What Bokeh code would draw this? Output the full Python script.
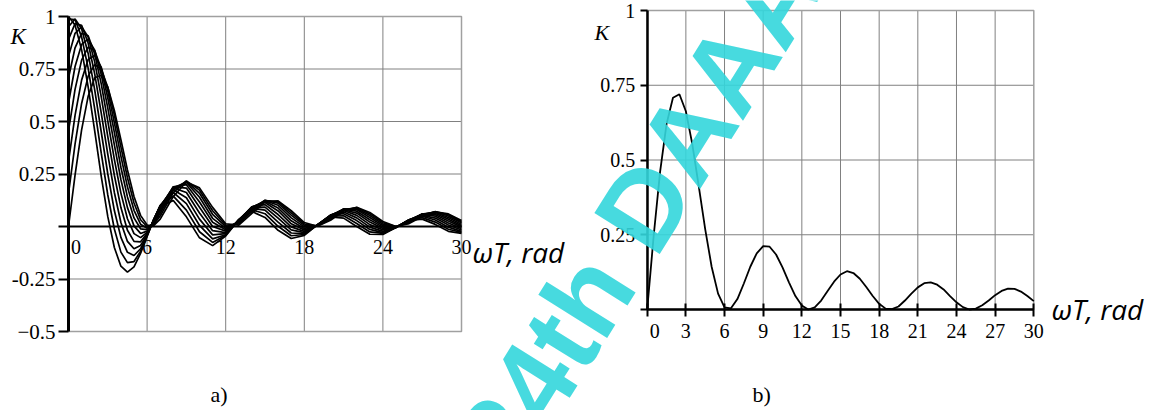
from bokeh.plotting import figure
from bokeh.models import Label, LinearAxis, FixedTicker, Range1d
from bokeh.embed import file_html
from bokeh.resources import INLINE

# ---------------- data: panel a (family of curves) ----------------
x_a = [0, 0.5, 1, 1.5, 2, 2.5, 3, 3.5, 4, 4.5, 5, 5.5, 6, 6.5, 7,
       8, 9, 10, 11, 12, 13, 14, 15, 16, 17, 18, 19, 20, 21, 22, 23, 24, 25, 26, 27, 28, 29, 30]

k_a0 = [1.000, 0.959, 0.842, 0.665, 0.455, 0.239, 0.047, -0.100, -0.189, -0.217, -0.192, -0.128, -0.047, 0.033, 0.094,
        0.124, 0.046, -0.054, -0.091, -0.045, 0.032, 0.071, 0.043, -0.018, -0.057, -0.042, 0.008, 0.046, 0.040, 0.000,
        -0.037, -0.038, -0.005, 0.029, 0.035, 0.010, -0.023, -0.033]
k_a1 = [0.988, 0.985, 0.903, 0.754, 0.560, 0.349, 0.150, -0.012, -0.122, -0.172, -0.167, -0.118, -0.045, 0.033, 0.098,
        0.145, 0.078, -0.025, -0.076, -0.042, 0.033, 0.080, 0.061, 0.001, -0.044, -0.038, 0.008, 0.050, 0.051, 0.014,
        -0.026, -0.033, -0.005, 0.031, 0.042, 0.021, -0.013, -0.028]
k_a2 = [0.951, 0.988, 0.942, 0.824, 0.651, 0.450, 0.250, 0.076, -0.052, -0.123, -0.138, -0.106, -0.042, 0.033, 0.100,
        0.162, 0.109, 0.005, -0.059, -0.039, 0.033, 0.086, 0.078, 0.021, -0.031, -0.034, 0.008, 0.053, 0.061, 0.028,
        -0.014, -0.029, -0.005, 0.032, 0.049, 0.031, -0.003, -0.023]
k_a3 = [0.891, 0.966, 0.958, 0.874, 0.727, 0.540, 0.343, 0.162, 0.019, -0.071, -0.106, -0.090, -0.039, 0.031, 0.100,
        0.175, 0.137, 0.035, -0.040, -0.034, 0.032, 0.091, 0.092, 0.040, -0.016, -0.029, 0.007, 0.054, 0.069, 0.041,
        -0.003, -0.023, -0.005, 0.032, 0.053, 0.040, 0.007, -0.017]
k_a4 = [0.809, 0.920, 0.951, 0.902, 0.784, 0.617, 0.428, 0.244, 0.090, -0.018, -0.071, -0.073, -0.034, 0.029, 0.097,
        0.184, 0.162, 0.064, -0.020, -0.029, 0.030, 0.094, 0.104, 0.057, -0.002, -0.023, 0.007, 0.054, 0.076, 0.053,
        0.009, -0.016, -0.004, 0.032, 0.057, 0.049, 0.017, -0.010]
k_a5 = [0.707, 0.851, 0.920, 0.908, 0.822, 0.679, 0.502, 0.320, 0.159, 0.037, -0.034, -0.053, -0.028, 0.026, 0.091,
        0.189, 0.183, 0.092, 0.000, -0.022, 0.028, 0.094, 0.114, 0.074, 0.013, -0.016, 0.006, 0.053, 0.080, 0.064,
        0.021, -0.010, -0.003, 0.030, 0.059, 0.056, 0.026, -0.003]
k_a6 = [0.588, 0.762, 0.867, 0.892, 0.840, 0.724, 0.564, 0.389, 0.223, 0.090, 0.003, -0.033, -0.022, 0.022, 0.084,
        0.189, 0.199, 0.117, 0.020, -0.016, 0.025, 0.092, 0.120, 0.088, 0.027, -0.009, 0.005, 0.051, 0.083, 0.073,
        0.032, -0.003, -0.003, 0.028, 0.060, 0.062, 0.035, 0.003]
k_a7 = [0.454, 0.653, 0.792, 0.854, 0.837, 0.751, 0.612, 0.448, 0.282, 0.141, 0.041, -0.011, -0.015, 0.018, 0.074,
        0.184, 0.210, 0.139, 0.039, -0.009, 0.021, 0.087, 0.124, 0.101, 0.041, -0.002, 0.004, 0.047, 0.084, 0.081,
        0.043, 0.004, -0.002, 0.025, 0.059, 0.067, 0.043, 0.010]
k_a8 = [0.309, 0.529, 0.697, 0.795, 0.814, 0.759, 0.645, 0.495, 0.335, 0.189, 0.077, 0.011, -0.008, 0.014, 0.063,
        0.174, 0.216, 0.158, 0.058, -0.001, 0.017, 0.081, 0.125, 0.111, 0.054, 0.005, 0.003, 0.042, 0.082, 0.086,
        0.052, 0.011, -0.001, 0.022, 0.057, 0.070, 0.050, 0.017]
k_a9 = [0.156, 0.392, 0.586, 0.716, 0.771, 0.749, 0.663, 0.531, 0.379, 0.232, 0.112, 0.032, -0.001, 0.009, 0.050,
        0.161, 0.217, 0.173, 0.075, 0.006, 0.012, 0.072, 0.123, 0.118, 0.065, 0.012, 0.002, 0.036, 0.079, 0.090,
        0.060, 0.018, 0.000, 0.018, 0.053, 0.071, 0.056, 0.023]
k_a10 = [0.000, 0.245, 0.460, 0.620, 0.708, 0.720, 0.663, 0.553, 0.413, 0.269, 0.143, 0.053, 0.007, 0.004, 0.035,
         0.143, 0.212, 0.184, 0.091, 0.013, 0.007, 0.062, 0.117, 0.122, 0.075, 0.019, 0.001, 0.030, 0.074, 0.091,
         0.067, 0.024, 0.000, 0.014, 0.048, 0.070, 0.060, 0.028]
family_a = [k_a0, k_a1, k_a2, k_a3, k_a4, k_a5, k_a6, k_a7, k_a8, k_a9, k_a10]

NB = "\u00a0"
xlim_a = [0, 30]
ylim_a = [-0.5, 1]
xticks_a = [0, 6, 12, 18, 24, 30]
xlabels_a = [NB * 3 + "0", "6", "12", "18", "24", "30"]
yticks_a = [-0.5, -0.25, 0, 0.25, 0.5, 0.75, 1]
ylabels_a = ["\u22120.5", "-0.25", "", "0.25", "0.5", "0.75", "1"]
xgrid_a = [6, 12, 18, 24]
ygrid_a = [-0.25, 0.25, 0.5, 0.75]

# ---------------- data: panel b (single curve) ----------------
x_b = [0, 0.5, 1, 1.5, 2, 2.5, 3, 3.5, 4, 4.5, 5, 5.5, 6, 6.5, 7, 7.5, 8, 8.5, 9, 9.5,
       10, 10.5, 11, 11.5, 12, 12.5, 13, 13.5, 14, 14.5, 15, 15.5, 16, 16.5, 17, 17.5, 18, 18.5, 19, 19.5,
       20, 20.5, 21, 21.5, 22, 22.5, 23, 23.5, 24, 24.5, 25, 25.5, 26, 26.5, 27, 27.5, 28, 28.5, 29, 29.5, 30]
k_b = [0.000, 0.245, 0.460, 0.620, 0.708, 0.720, 0.663, 0.553, 0.413, 0.269, 0.143, 0.053, 0.007, 0.004, 0.035,
       0.087, 0.143, 0.188, 0.212, 0.210, 0.184, 0.141, 0.091, 0.045, 0.013, 0.000, 0.007, 0.030, 0.062, 0.093,
       0.117, 0.128, 0.122, 0.103, 0.075, 0.045, 0.019, 0.003, 0.001, 0.010, 0.030, 0.053, 0.074, 0.088, 0.091,
       0.083, 0.067, 0.045, 0.024, 0.008, 0.000, 0.003, 0.014, 0.030, 0.048, 0.062, 0.070, 0.069, 0.060, 0.045, 0.028]

xlim_b = [0, 30]
ylim_b = [0, 1]
xticks_b = [0, 3, 6, 9, 12, 15, 18, 21, 24, 27, 30]
xlabels_b = [NB * 3 + "0", "3", "6", "9", "12", "15", "18", "21", "24", "27", "30"]
yticks_b = [0, 0.25, 0.5, 0.75, 1]
ylabels_b = ["", "0.25", "0.5", "0.75", "1"]
xgrid_b = [3, 6, 9, 12, 15, 18, 21, 24, 27]
ygrid_b = [0.25, 0.5, 0.75]

# ---------------- layout constants (pixels on the canvas) ----------------
W, H = 1157, 410
A_LEFT, A_RIGHT, A_TOP, A_BOTTOM = 68, 461, 16, 331      # pixel positions of x=0, x=30, y=1, y=-0.5
B_LEFT, B_RIGHT, B_TOP, B_BOTTOM = 646.7, 1033.3, 10, 309  # pixel positions of x=0, x=30, y=1, y=0

SERIF = "Liberation Serif"
SANS_IT = "Open Sans"
GRID = "#808080"
OUTLINE = "#a0a0a0"
WM_COLOR = "#33D6DB"


def x_span(v0, v1, p0, p1):
    s = (p1 - p0) / (v1 - v0)
    return Range1d(v0 - p0 / s, v1 + (W - p1) / s)


def y_span(v_bot, v_top, p_bot, p_top):
    s = (p_bot - p_top) / (v_top - v_bot)
    return Range1d(v_bot - (H - p_bot) / s, v_top + p_top / s)


p = figure(width=W, height=H, x_range=x_span(xlim_a[0], xlim_a[1], A_LEFT, A_RIGHT),
           y_range=y_span(ylim_a[0], ylim_a[1], A_BOTTOM, A_TOP),
           x_axis_location=None, y_axis_location=None,
           output_backend="svg", toolbar_location=None, min_border=0)
p.extra_x_ranges = {"xb": x_span(xlim_b[0], xlim_b[1], B_LEFT, B_RIGHT)}
p.extra_y_ranges = {"yb": y_span(ylim_b[0], ylim_b[1], B_BOTTOM, B_TOP)}
p.outline_line_color = None
p.xgrid.visible = False
p.ygrid.visible = False
p.background_fill_color = "white"
p.border_fill_color = "white"


def panel(xlim, ylim, xgrid, ygrid, rn):
    kw = {} if rn is None else dict(x_range_name="xb", y_range_name="yb")
    p.segment(x0=xgrid, y0=[ylim[0]] * len(xgrid), x1=xgrid, y1=[ylim[1]] * len(xgrid),
              line_color=GRID, line_width=1, **kw)
    p.segment(x0=[xlim[0]] * len(ygrid), y0=ygrid, x1=[xlim[1]] * len(ygrid), y1=ygrid,
              line_color=GRID, line_width=1, **kw)
    p.quad(left=[xlim[0]], right=[xlim[1]], bottom=[ylim[0]], top=[ylim[1]],
           fill_color=None, line_color=OUTLINE, line_width=1.5, **kw)


def axis(side, ticks, labels, bounds, loc, rn, size, tin, tout, lw, standoff):
    kw = {} if rn is None else dict(x_range_name="xb", y_range_name="yb")
    ax = LinearAxis(ticker=FixedTicker(ticks=ticks), fixed_location=loc, bounds=bounds, **kw)
    ax.major_label_overrides = dict(zip(ticks, labels))
    ax.minor_tick_line_color = None
    ax.major_tick_in = tin
    ax.major_tick_out = tout
    ax.major_tick_line_width = 2
    ax.major_tick_line_color = "black"
    ax.axis_line_color = "black"
    ax.axis_line_width = lw
    ax.major_label_standoff = standoff
    ax.major_label_text_font = SERIF
    ax.major_label_text_font_size = size
    ax.major_label_text_color = "black"
    p.add_layout(ax, side)


# ----- panel a -----
panel(xlim_a, ylim_a, xgrid_a, ygrid_a, None)
for k in family_a:
    p.line(x_a, k, line_color="black", line_width=1.7)
axis("below", xticks_a, xlabels_a, (xlim_a[0], xlim_a[1]), 0, None, "20px", 0, 0, 2, 9)
axis("left", yticks_a, ylabels_a, (ylim_a[0], ylim_a[1]), 0, None, "21px", 0, 10, 3, 3)

# ----- panel b -----
panel(xlim_b, ylim_b, xgrid_b, ygrid_b, "b")
p.line(x_b, k_b, line_color="black", line_width=1.8, x_range_name="xb", y_range_name="yb")
axis("below", xticks_b, xlabels_b, (xlim_b[0], xlim_b[1]), 0, "b", "20px", 6, 7, 2.5, 3)
axis("left", yticks_b, ylabels_b, (ylim_b[0], ylim_b[1]), 0, "b", "20px", 0, 7, 2.5, 5)


# ----- texts -----
def label(x, y, text, font, size, style="normal", color="black", angle=0, alpha=1.0):
    p.add_layout(Label(x=x, y=H - y, x_units="screen", y_units="screen", text=text,
                       text_font=font, text_font_size=size, text_font_style=style,
                       text_color=color, text_alpha=alpha, angle=angle, angle_units="deg",
                       text_baseline="alphabetic", text_align="left"))


label(10, 36, "K", SERIF, "23px", "italic")
label(472, 251, "\u03c9T, rad", SANS_IT, "28px", "italic")
label(210, 394, "a)", SERIF, "22px")
label(594, 32, "K", SERIF, "22px", "italic")
label(1051, 308, "\u03c9T, rad", SANS_IT, "28px", "italic")
label(752, 394, "b)", SERIF, "22px")
label(484, 461, "24th DAAAM", "Liberation Sans", "112px", style="bold",
      color=WM_COLOR, angle=58, alpha=0.9)

open("out.html", "w").write(file_html(p, INLINE))
